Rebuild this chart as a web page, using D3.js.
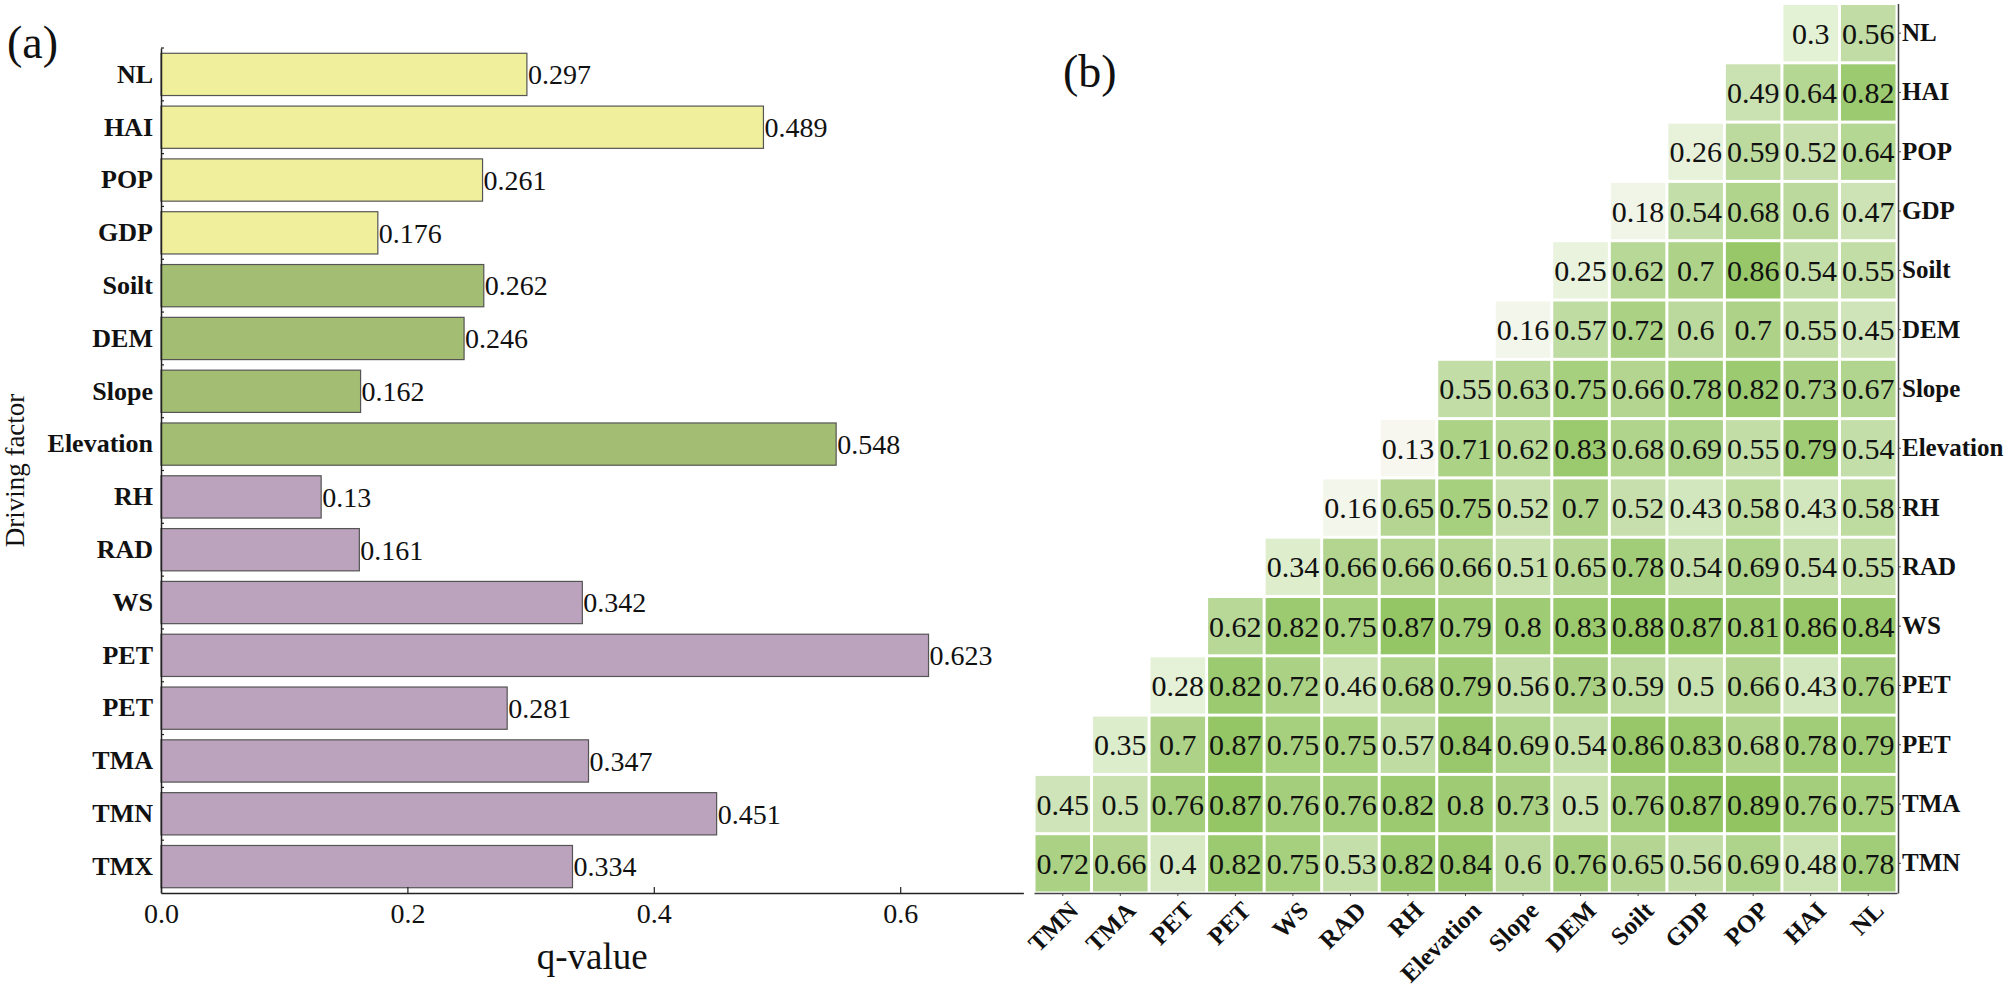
<!DOCTYPE html>
<html>
<head>
<meta charset="utf-8">
<script src="https://cdn.jsdelivr.net/npm/d3@7"></script>
<style>
  body { margin: 0; background: #fff; }
  svg text { font-family: "Liberation Serif", "Times New Roman", serif; }
</style>
</head>
<body>
<svg id="chart" width="2007" height="994"></svg>
<script>
// ---- data ----
const factors = ["NL", "HAI", "POP", "GDP", "Soilt", "DEM", "Slope", "Elevation",
                 "RH", "RAD", "WS", "PET", "PET", "TMA", "TMN", "TMX"];
const qValues = [0.297, 0.489, 0.261, 0.176, 0.262, 0.246, 0.162, 0.548,
                 0.13, 0.161, 0.342, 0.623, 0.281, 0.347, 0.451, 0.334];
const groups = ["soc", "soc", "soc", "soc", "ter", "ter", "ter", "ter",
                "cli", "cli", "cli", "cli", "cli", "cli", "cli", "cli"];
const xTicks = [0, 0.2, 0.4, 0.6];

const heatRows = ["NL", "HAI", "POP", "GDP", "Soilt", "DEM", "Slope", "Elevation",
                  "RH", "RAD", "WS", "PET", "PET", "TMA", "TMN"];
const heatCols = ["TMN", "TMA", "PET", "PET", "WS", "RAD", "RH", "Elevation",
                  "Slope", "DEM", "Soilt", "GDP", "POP", "HAI", "NL"];
// each row lists its cells from left to right, ending in the NL column
const heatValues = [
  [0.3, 0.56],
  [0.49, 0.64, 0.82],
  [0.26, 0.59, 0.52, 0.64],
  [0.18, 0.54, 0.68, 0.6, 0.47],
  [0.25, 0.62, 0.7, 0.86, 0.54, 0.55],
  [0.16, 0.57, 0.72, 0.6, 0.7, 0.55, 0.45],
  [0.55, 0.63, 0.75, 0.66, 0.78, 0.82, 0.73, 0.67],
  [0.13, 0.71, 0.62, 0.83, 0.68, 0.69, 0.55, 0.79, 0.54],
  [0.16, 0.65, 0.75, 0.52, 0.7, 0.52, 0.43, 0.58, 0.43, 0.58],
  [0.34, 0.66, 0.66, 0.66, 0.51, 0.65, 0.78, 0.54, 0.69, 0.54, 0.55],
  [0.62, 0.82, 0.75, 0.87, 0.79, 0.8, 0.83, 0.88, 0.87, 0.81, 0.86, 0.84],
  [0.28, 0.82, 0.72, 0.46, 0.68, 0.79, 0.56, 0.73, 0.59, 0.5, 0.66, 0.43, 0.76],
  [0.35, 0.7, 0.87, 0.75, 0.75, 0.57, 0.84, 0.69, 0.54, 0.86, 0.83, 0.68, 0.78, 0.79],
  [0.45, 0.5, 0.76, 0.87, 0.76, 0.76, 0.82, 0.8, 0.73, 0.5, 0.76, 0.87, 0.89, 0.76, 0.75],
  [0.72, 0.66, 0.4, 0.82, 0.75, 0.53, 0.82, 0.84, 0.6, 0.76, 0.65, 0.56, 0.69, 0.48, 0.78]
];

const svg = d3.select("#chart");
const serif = "Liberation Serif, serif";

// ---- (a) bar chart ----
const barColor = { soc: "#f0ef9c", ter: "#a3be72", cli: "#bca3bd" };
const axisY = 893;

const x = d3.scaleLinear().domain([0, 0.7]).range([161, 161 + 0.7 * 1232]);
const y = d3.scaleBand().domain(d3.range(factors.length))
    .range([48, axisY]).paddingInner(0.2).paddingOuter(0.1);

const gA = svg.append("g");

gA.selectAll("rect.bar")
    .data(qValues)
    .join("rect")
    .attr("class", "bar")
    .attr("x", x(0))
    .attr("y", (d, i) => y(i))
    .attr("width", d => x(d) - x(0))
    .attr("height", y.bandwidth())
    .attr("fill", (d, i) => barColor[groups[i]])
    .attr("stroke", "#555")
    .attr("stroke-width", 1.2);

gA.selectAll("text.val")
    .data(qValues)
    .join("text")
    .attr("class", "val")
    .attr("x", d => x(d) + 1)
    .attr("y", (d, i) => y(i) + y.bandwidth() / 2)
    .attr("dy", "0.35em")
    .attr("font-size", "28px")
    .attr("fill", "#111")
    .text(d => d);

// y axis
const yAxis = gA.append("g")
    .attr("transform", `translate(${x(0)},0)`)
    .call(d3.axisLeft(y).tickSize(0).tickPadding(8).tickFormat(i => factors[i]));
yAxis.select(".domain").attr("stroke", "#222").attr("stroke-width", 1.5);
yAxis.selectAll("text")
    .attr("font-size", "26px")
    .attr("font-weight", "bold")
    .attr("fill", "#111")
    .attr("font-family", serif);

// small inward ticks at the band edges
const edges = d3.range(factors.length).map(i => y(i) - y.step() * y.paddingInner() / 2);
gA.selectAll("line.edge")
    .data(edges)
    .join("line")
    .attr("class", "edge")
    .attr("x1", x(0)).attr("x2", x(0) + 3)
    .attr("y1", d => d).attr("y2", d => d)
    .attr("stroke", "#222").attr("stroke-width", 1.2);

// x axis
const xAxis = gA.append("g")
    .attr("transform", `translate(0,${axisY})`)
    .call(d3.axisBottom(x).tickValues(xTicks).tickFormat(d3.format(".1f"))
        .tickSizeInner(-6).tickSizeOuter(0).tickPadding(10));
xAxis.select(".domain").attr("stroke", "#222").attr("stroke-width", 1.5);
xAxis.selectAll(".tick line").attr("stroke", "#222").attr("stroke-width", 1.2);
xAxis.selectAll("text")
    .attr("font-size", "28px")
    .attr("fill", "#111")
    .attr("font-family", serif);

gA.append("text")
    .attr("x", (x.range()[0] + x.range()[1]) / 2)
    .attr("y", 969)
    .attr("text-anchor", "middle")
    .attr("font-size", "37px")
    .attr("fill", "#111")
    .text("q-value");

gA.append("text")
    .attr("transform", `translate(24,${(48 + axisY) / 2}) rotate(-90)`)
    .attr("text-anchor", "middle")
    .attr("font-size", "27px")
    .attr("fill", "#111")
    .text("Driving factor");

svg.append("text")
    .attr("x", 7).attr("y", 58)
    .attr("font-size", "46px")
    .attr("fill", "#111")
    .text("(a)");

// ---- (b) heatmap ----
const hx = d3.scaleBand().domain(d3.range(heatCols.length)).range([1034, 1897]);
const hy = d3.scaleBand().domain(d3.range(heatRows.length)).range([3.5, axisY]);

const color = d3.scaleLinear()
    .domain([0.12, 0.3, 0.55, 0.9])
    .range(["#f8f7f0", "#e3f1d5", "#c2dda6", "#91c460"]);

const cells = [];
heatValues.forEach((row, r) => {
  const start = heatCols.length - row.length;
  row.forEach((v, k) => cells.push({ r: r, c: start + k, v: v }));
});

const gB = svg.append("g");
const gap = 3;

gB.selectAll("rect.cell")
    .data(cells)
    .join("rect")
    .attr("class", "cell")
    .attr("x", d => hx(d.c) + gap / 2)
    .attr("y", d => hy(d.r) + gap / 2)
    .attr("width", hx.bandwidth() - gap)
    .attr("height", hy.bandwidth() - gap)
    .attr("fill", d => color(d.v));

gB.selectAll("text.cellval")
    .data(cells)
    .join("text")
    .attr("class", "cellval")
    .attr("x", d => hx(d.c) + hx.bandwidth() / 2)
    .attr("y", d => hy(d.r) + hy.bandwidth() / 2)
    .attr("dy", "0.35em")
    .attr("text-anchor", "middle")
    .attr("font-size", "30px")
    .attr("fill", "#111")
    .text(d => d.v);

const rAxis = gB.append("g")
    .attr("transform", "translate(1898,0)")
    .call(d3.axisRight(hy).tickSizeInner(3).tickSizeOuter(0).tickPadding(1)
        .tickFormat(i => heatRows[i]));
rAxis.select(".domain").attr("stroke", "#444").attr("stroke-width", 1.5);
rAxis.selectAll(".tick line").attr("stroke", "#444");
rAxis.selectAll("text")
    .attr("font-size", "25px")
    .attr("font-weight", "bold")
    .attr("fill", "#111")
    .attr("font-family", serif);

const bAxis = gB.append("g")
    .attr("transform", `translate(0,${axisY})`)
    .call(d3.axisBottom(hx).tickSizeInner(3).tickSizeOuter(0)
        .tickFormat(i => heatCols[i]));
bAxis.select(".domain").attr("stroke", "#444").attr("stroke-width", 1.5);
bAxis.selectAll(".tick line").attr("stroke", "#444");
bAxis.selectAll("text")
    .attr("y", 0).attr("dy", 0)
    .attr("transform", "translate(17,19) rotate(-45)")
    .attr("text-anchor", "end")
    .attr("font-size", "25px")
    .attr("font-weight", "bold")
    .attr("fill", "#111")
    .attr("font-family", serif);

svg.append("text")
    .attr("x", 1063).attr("y", 87)
    .attr("font-size", "46px")
    .attr("fill", "#111")
    .text("(b)");
</script>
</body>
</html>
